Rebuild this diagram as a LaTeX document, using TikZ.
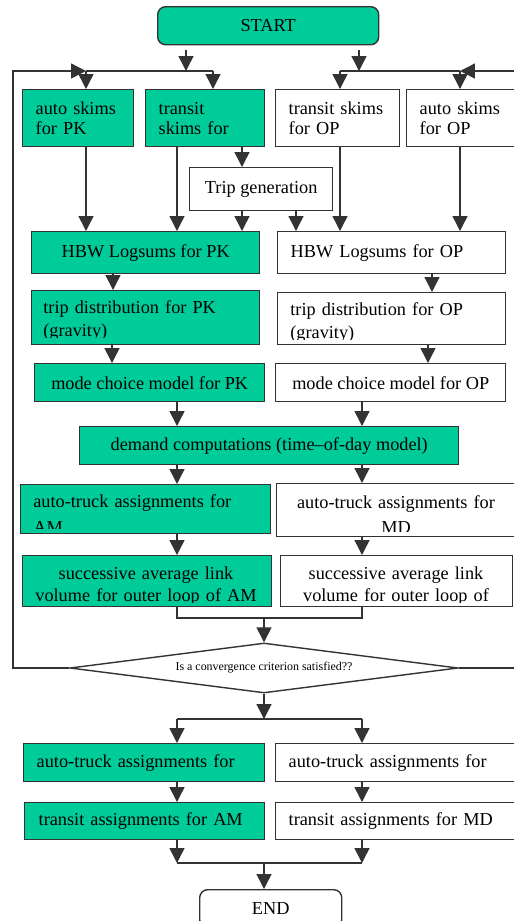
\documentclass[tikz,border=0pt]{standalone}
\usepackage{fontspec}
\setmainfont{Liberation Serif}
\usetikzlibrary{arrows.meta,shapes.geometric}

\definecolor{tgreen}{RGB}{0,204,153}
\definecolor{dgray}{RGB}{51,51,51}
\newcommand{\px}{0.02cm}
\newcommand{\boxfont}{\fontsize{10.4}{11.4}\selectfont}

\begin{document}
\begin{tikzpicture}[x=0.02cm, y=-0.02cm,
    box/.style={draw=dgray, line width=0.8pt, inner sep=0pt, anchor=north west, font=\boxfont},
    pk/.style={box, fill=tgreen},
    op/.style={box, fill=white},
    wh/.style 2 args={minimum width=#1*\px, minimum height=#2*\px},
    lft/.style={text width=#1*\px, align=left},
    mid/.style={text width=#1*\px, align=center},
    txt/.style={inner sep=0pt},
    dia/.style={diamond, draw=dgray, fill=white, line width=0.8pt, inner sep=0pt, aspect=7.8,
        minimum width=388*\px, minimum height=50*\px, font=\fontsize{6.8}{8}\selectfont},
    wire/.style={draw=dgray, line width=0.8pt},
    arr/.style={wire, -{Triangle[length=8.5pt,width=8.5pt]}}]

        \useasboundingbox (0,0) rectangle (514,921);
        \clip (0,0) rectangle (514,921);

        % Start
        \node[pk, wh={221}{38}, rounded corners=4.5pt] (start) at (157,6) {START};

        % Skims
        \node[pk, wh={111}{57}, lft=85] (askpk) at (22,89) {auto skims\\for PK};
        \node[pk, wh={119}{57}, lft=93] (tskpk) at (145,89) {transit\\skims for};
        \node[op, wh={124}{57}, lft=98] (tskop) at (275,89) {transit skims\\for OP};
        \node[op, wh={124}{57}, lft=98] (askop) at (406,89) {auto skims\\for OP};
        \node[op, wh={143}{43}] (tripgen) at (189,167) {Trip generation};

        % Logsums and trip distribution
        \node[pk, wh={228}{42}] (hbwpk) at (31,231) {HBW Logsums for PK};
        \node[op, wh={228}{42}, lft=202] (hbwop) at (277,231) {HBW Logsums for OP};
        \node[pk, wh={228}{54}] (tdpk) at (31,290) {};
        \node[op, wh={228}{52}] (tdop) at (277,292) {};
        \begin{scope}
            \clip (tdpk.north west) rectangle ([yshift=4.6pt]tdpk.south east);
            \node[txt, anchor=base west, lft=200, font=\fontsize{10.4}{13.6}\selectfont] (tdpktxt) at (43,313) {trip distribution for PK\\(gravity)};
        \end{scope}
        \begin{scope}
            \clip (tdop.north west) rectangle ([yshift=3.4pt]tdop.south east);
            \node[txt, anchor=base west, lft=200, font=\fontsize{10.4}{13.6}\selectfont] (tdoptxt) at (290,315) {trip distribution for OP\\(gravity)};
        \end{scope}

        % Mode choice and demand
        \node[pk, wh={230}{38}] (modepk) at (34,363) {mode choice model for PK};
        \node[op, wh={230}{38}] (modeop) at (275,363) {mode choice model for OP};
        \node[pk, wh={379}{38}] (demand) at (79,426) {demand computations (time--of-day model)};

        % Inner assignments
        \node[pk, wh={250}{49}] (atam) at (20,484) {};
        \node[op, wh={240}{53}] (atmd) at (276,483) {};
        \node[pk, wh={249}{51}] (succam) at (22,555) {};
        \node[op, wh={232}{51}] (succmd) at (280,555) {};
        \begin{scope}
            \clip (atam.north west) rectangle ([yshift=3.4pt]atam.south east);
            \node[txt, anchor=base west, lft=225, font=\fontsize{10.4}{15.3}\selectfont] (atamtxt) at (33,507) {auto-truck assignments for\\AM};
        \end{scope}
        \begin{scope}
            \clip (atmd.north west) rectangle ([yshift=3.4pt]atmd.south east);
            \node[txt, anchor=base, mid=240, font=\fontsize{10.4}{14.7}\selectfont] (atmdtxt) at (396,508) {auto-truck assignments for\\MD};
        \end{scope}
        \begin{scope}
            \clip (succam.north west) rectangle ([yshift=2.8pt]succam.south east);
            \node[txt, anchor=base, mid=249, font=\fontsize{10.4}{13}\selectfont] (succamtxt) at (146,579) {successive average link\\volume for outer loop of AM};
        \end{scope}
        \begin{scope}
            \clip (succmd.north west) rectangle ([yshift=2.8pt]succmd.south east);
            \node[txt, anchor=base, mid=232, font=\fontsize{10.4}{13}\selectfont] (succmdtxt) at (396,579) {successive average link\\volume for outer loop of};
        \end{scope}

        % Convergence test
        \node[dia] (conv) at (264,668) {Is a convergence criterion satisfied??};

        % Final assignments
        \node[pk, wh={241}{38}, lft=215] (atam2) at (23,743) {auto-truck assignments for};
        \node[op, wh={255}{38}, lft=229] (atmd2) at (275,743) {auto-truck assignments for};
        \node[pk, wh={240}{37}, lft=212] (tram) at (24,802) {transit assignments for AM};
        \node[op, wh={255}{37}, lft=229] (trmd) at (275,802) {transit assignments for MD};
        \node[op, wh={142}{38}, rounded corners=4.5pt] (stop) at (199,889) {END};

        % Junctions
        \coordinate (pkl) at (86,71);
        \coordinate (pkr) at (213,71);
        \coordinate (opl) at (340,71);
        \coordinate (opr) at (460,71);
        \coordinate (loopl) at (13,71);
        \coordinate (loopr) at (530,71);
        \coordinate (join) at (264,618);
        \coordinate (split) at (264,719);
        \coordinate (merge) at (264,863);

        % From START to the skims
        \draw[arr, shorten <=2.8pt] (186,0 |- start.south) -- (186,0 |- pkl);
        \draw[arr, shorten <=2.8pt] (359,0 |- start.south) -- (359,0 |- opl);
        \draw[wire] (pkl) -- (pkr);
        \draw[wire] (opl) -- (opr);
        \draw[arr] (pkl) -- (pkl |- askpk.north);
        \draw[arr] (pkr) -- (pkr |- tskpk.north);
        \draw[arr] (opl) -- (opl |- tskop.north);
        \draw[arr] (opr) -- (opr |- askop.north);

        % Into the logsums
        \draw[arr] (pkl |- askpk.south) -- (pkl |- hbwpk.north);
        \draw[arr] (177,0 |- tskpk.south) -- (177,0 |- hbwpk.north);
        \draw[arr] (242,0 |- tskpk.south) -- (242,0 |- tripgen.north);
        \draw[arr] (242,0 |- tripgen.south) -- (242,0 |- hbwpk.north);
        \draw[arr] (296,0 |- tripgen.south) -- (296,0 |- hbwop.north);
        \draw[arr] (opl |- tskop.south) -- (opl |- hbwop.north);
        \draw[arr] (opr |- askop.south) -- (opr |- hbwop.north);

        % Down the two columns
        \draw[arr] (113,0 |- hbwpk.south) -- (113,0 |- tdpk.north);
        \draw[arr] (432,0 |- hbwop.south) -- (432,0 |- tdop.north);
        \draw[arr] (112,0 |- tdpk.south) -- (112,0 |- modepk.north);
        \draw[arr] (428,0 |- tdop.south) -- (428,0 |- modeop.north);
        \draw[arr] (177,0 |- modepk.south) -- (177,0 |- demand.north);
        \draw[arr] (362,0 |- modeop.south) -- (362,0 |- demand.north);
        \draw[arr] (177,0 |- demand.south) -- (177,0 |- atam.north);
        \draw[arr] (362,0 |- demand.south) -- (362,0 |- atmd.north);
        \draw[arr] (177,0 |- atam.south) -- (177,0 |- succam.north);
        \draw[arr] (362,0 |- atmd.south) -- (362,0 |- succmd.north);

        % Convergence loop
        \draw[wire] (177,0 |- succam.south) |- (join) -| (362,0 |- succmd.south);
        \draw[arr] (join) -- (conv.north);
        \draw[arr] (conv.west) -| (loopl) -- (pkl);
        \draw[arr] (conv.east) -| (loopr) -- (opr);

        % Final assignments to END
        \draw[arr] (conv.south) -- (split);
        \draw[wire] (177,0 |- split) -- (362,0 |- split);
        \draw[arr] (177,0 |- split) -- (177,0 |- atam2.north);
        \draw[arr] (362,0 |- split) -- (362,0 |- atmd2.north);
        \draw[arr] (177,0 |- atam2.south) -- (177,0 |- tram.north);
        \draw[arr] (362,0 |- atmd2.south) -- (362,0 |- trmd.north);
        \draw[arr] (177,0 |- tram.south) -- (177,0 |- merge);
        \draw[arr] (362,0 |- trmd.south) -- (362,0 |- merge);
        \draw[wire] (177,0 |- merge) -- (362,0 |- merge);
        \draw[arr] (merge) -- (merge |- stop.north);
    \end{tikzpicture}
\end{document}
